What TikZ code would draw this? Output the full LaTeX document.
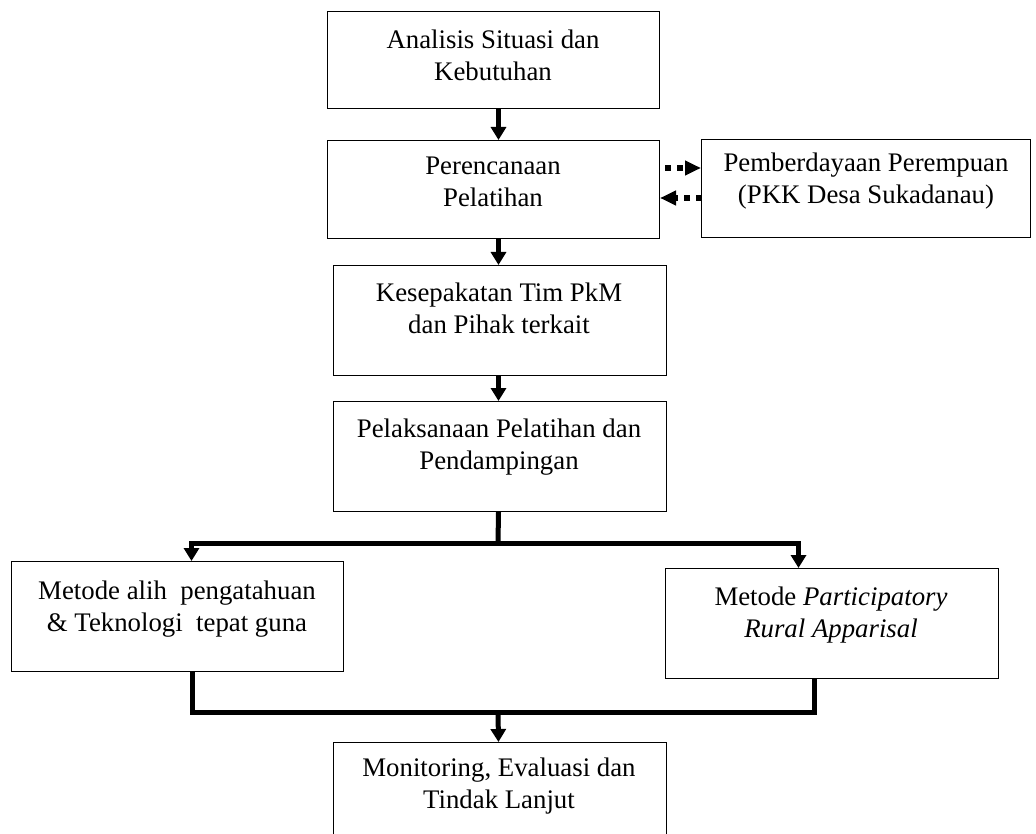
\documentclass[tikz,border=0pt]{standalone}
\usepackage{fontspec}
\setmainfont{Liberation Serif}
\usetikzlibrary{arrows.meta}
\begin{document}
\begin{tikzpicture}[x=1pt,y=-1pt,
 box/.style={draw=black, line width=1pt, inner sep=0pt, anchor=north west},
 txt/.style={align=center, inner sep=0pt, font=\fontsize{26.8}{32}\selectfont},
 conn/.style={line width=5pt, draw=black},
 arr/.style={conn, -{Triangle[width=15pt,length=13pt]}},
 dotarr/.style={line width=6pt, dash pattern=on 6pt off 6pt, -{Triangle[width=14pt,length=16pt]}}]
\clip (0,0) rectangle (1036,834);
\fill[white] (0,0) rectangle (1036,834);
% boxes
\node[box, minimum width=332pt, minimum height=97pt] (b1) at (327,11) {};
\node[box, minimum width=332pt, minimum height=98pt] (b2) at (327,140) {};
\node[box, minimum width=329pt, minimum height=98pt] (b3) at (701,139) {};
\node[box, minimum width=333pt, minimum height=110pt] (b4) at (333,265) {};
\node[box, minimum width=333pt, minimum height=110pt] (b5) at (333,401) {};
\node[box, minimum width=332pt, minimum height=110pt] (b6) at (11,561) {};
\node[box, minimum width=333pt, minimum height=110pt] (b7) at (665,568) {};
\node[box, minimum width=333pt, minimum height=110pt] (b8) at (333,742) {};
% texts
\node[txt] (t1) at (493,55) {Analisis Situasi dan\\Kebutuhan};
\node[txt] (t2) at (493,182) {Perencanaan\\Pelatihan};
\node[txt] (t3) at (866,181) {Pemberdayaan Perempuan\\(PKK Desa Sukadanau)};
\node[txt] (t4) at (499,308) {Kesepakatan Tim PkM\\dan Pihak terkait};
\node[txt] (t5) at (499,447) {Pelaksanaan Pelatihan dan\\Pendampingan};
\node[txt] (t6) at (177,609) {Metode alih\ \ pengatahuan\\\&\ Teknologi\ \ tepat guna};
\node[txt] (t7) at (831,615) {Metode \textit{Participatory}\\\textit{Rural Apparisal}};
\node[txt] (t8) at (499,786) {Monitoring, Evaluasi dan\\Tindak Lanjut};
% straight connectors
\draw[arr] ([xshift=5pt]b1.south) -- ([xshift=5pt]b2.north);
\draw[arr] ([xshift=5pt]b2.south) -- ([xshift=-1.5pt]b4.north);
\draw[arr] ([xshift=-1.5pt]b4.south) -- ([xshift=-1.5pt]b5.north);
% dotted exchange
\coordinate (d1) at (665,168);
\coordinate (d2) at (702,198);
\draw[dotarr] (d1) -- (b3.west |- d1);
\draw[dotarr] (d2) -- (b2.east |- d2);
% split
\coordinate (s) at (498,543);
\draw[conn] ([xshift=-1.5pt]b5.south) -- (s);
\draw[arr] (s) -| ([xshift=14pt]b6.north);
\draw[arr] (s) -| ([xshift=-33.5pt]b7.north);
% merge
\coordinate (m) at (498,712);
\draw[conn] ([xshift=15pt]b6.south) |- (m) -| ([xshift=-17.5pt]b7.south);
\draw[arr] (m) -- ([xshift=-1.5pt]b8.north);
\end{tikzpicture}
\end{document}
